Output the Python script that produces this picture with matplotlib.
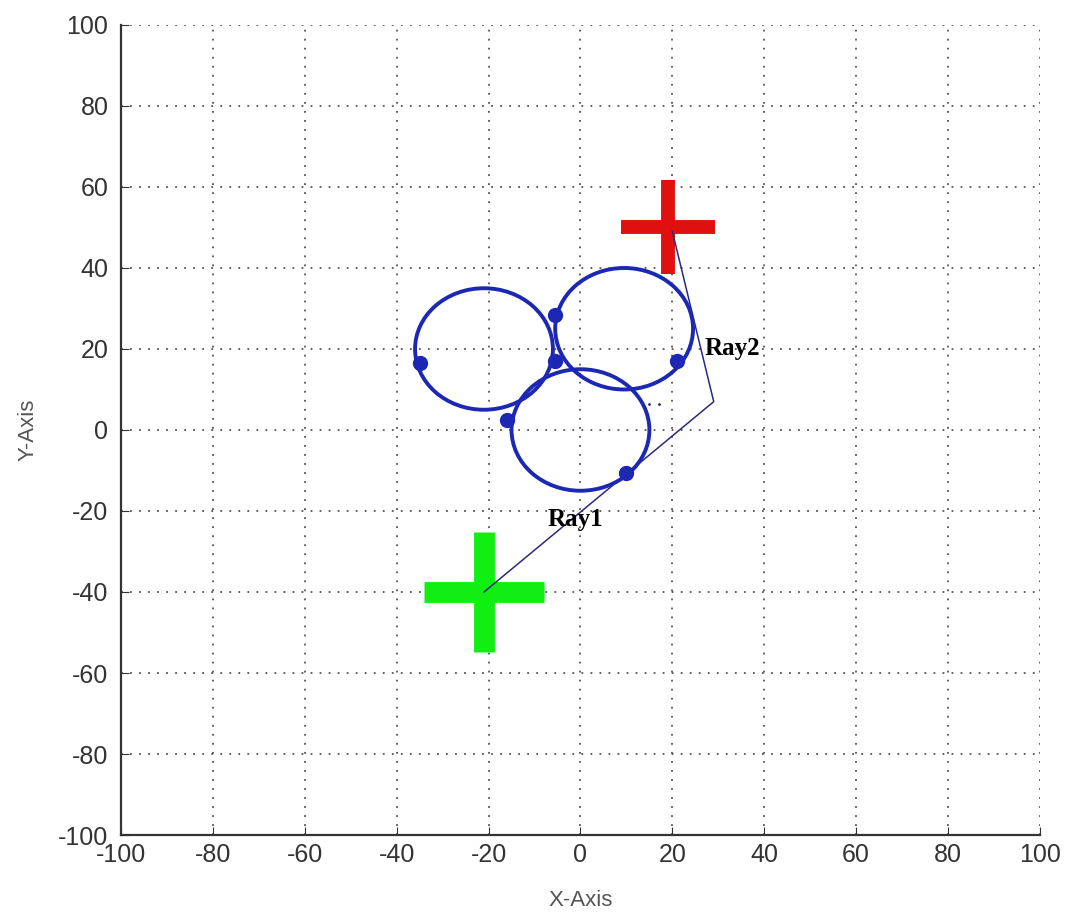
import matplotlib
matplotlib.use("Agg")
import matplotlib.pyplot as plt
from matplotlib.patches import Circle

plt.rcParams["axes.unicode_minus"] = False

# obstacle circles (center x, center y, radius)
circle_x = [-21, 9.5, 0]
circle_y = [20, 25, 0]
circle_r = [15, 15, 15]

# dots on the circles
dot_x = [-35, -5.5, -5.5, 21, -16, 10]
dot_y = [16.5, 17, 28.5, 17, 2.5, -10.5]

# path from start to goal
path_x = [-21, 29, 20]
path_y = [-40, 7, 49]

start = (-21, -40)
goal = (19, 50)

ticks = list(range(-100, 101, 20))

fig = plt.figure(figsize=(10.65, 9.18), dpi=100)
ax = fig.add_axes([0.1136, 0.0904, 0.8629, 0.8824])
ax.set_axisbelow(True)

for cx, cy, r in zip(circle_x, circle_y, circle_r):
    ax.add_patch(Circle((cx, cy), r, fill=False, edgecolor="#1c28b4", linewidth=2.8, zorder=3))
ax.plot(dot_x, dot_y, "o", color="#1c28b4", markersize=10, zorder=4)

ax.plot(path_x, path_y, color="#2a2a7a", linewidth=1.1, zorder=2)
ax.plot([15, 17], [6.5, 6.5], ".", color="#2a2a7a", markersize=2)

ax.plot(*start, "+", color="#11ee11", markersize=86, markeredgewidth=15, zorder=1)
ax.plot(*goal, "+", color="#e01010", markersize=67, markeredgewidth=10, zorder=1)

ax.text(-1.2, -22, "Ray1", family="Liberation Serif", fontweight="bold", fontsize=18, ha="center", va="center")
ax.text(33, 20, "Ray2", family="Liberation Serif", fontweight="bold", fontsize=18, ha="center", va="center")

ax.set_xlim(-100, 100)
ax.set_ylim(-100, 100)
ax.set_xticks(ticks)
ax.set_yticks(ticks)
ax.set_xticklabels([str(t) for t in ticks], family="Liberation Sans")
ax.set_yticklabels([str(t) for t in ticks], family="Liberation Sans")
ax.tick_params(direction="in", labelsize=18, length=6, colors="#333333", labelcolor="#333333")
ax.tick_params(axis="y", pad=9)
ax.tick_params(axis="x", pad=6)
ax.grid(True, linestyle=(0, (1, 4)), color="#555555", linewidth=1.3)
ax.spines["top"].set_visible(False)
ax.spines["right"].set_visible(False)
for s in ["left", "bottom"]:
    ax.spines[s].set_linewidth(1.6)
    ax.spines[s].set_color("#333333")
ax.set_xlabel("X-Axis", family="Liberation Sans", fontsize=16, color="#555555", labelpad=16)
ax.set_ylabel("Y-Axis", family="Liberation Sans", fontsize=16, color="#555555", labelpad=14)

fig.savefig("out.png", dpi=100)
